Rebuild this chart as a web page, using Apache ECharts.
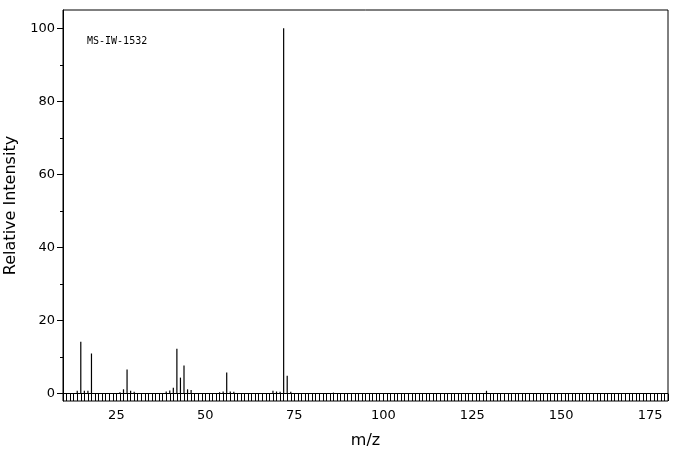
<!DOCTYPE html><html><head><meta charset="utf-8"><script src="https://cdn.jsdelivr.net/npm/echarts@6/dist/echarts.min.js"></script></head><body style="margin:0"><div id="c" style="width:676px;height:455px"></div><script>
const mz =        [14, 15, 16, 17, 18, 26, 27, 28, 29, 30, 39, 40, 41, 42, 43, 44, 45, 46, 54, 55, 56, 57, 58, 69, 70, 71, 72, 73, 74, 86, 129];
const intensity = [0.8,14.2,0.8,0.8,11.0,0.4,1.2,6.6,0.8,0.5,0.6,0.9,1.6,12.3,4.4,7.7,1.2,1.0,0.4,0.6,5.8,0.6,0.5,0.8,0.6,0.5,100,4.9,0.5,0.3,0.8];
const xTicks = [25,50,75,100,125,150,175];
const yTicks = [0,20,40,60,80,100];
const label = 'MS-IW-1532';
const chart = echarts.init(document.getElementById('c'));
const font = {fontFamily:'DejaVu Sans',fontSize:13,color:'#000'};
chart.setOption({
  animation:false,
  grid:{left:63,right:8,top:10,bottom:54,show:true,borderColor:'#000',borderWidth:1,backgroundColor:'#fff',containLabel:false,outerBoundsMode:'none'},
  xAxis:[{type:'value',min:10,max:180,name:'m/z',nameLocation:'middle',nameGap:32,
    nameTextStyle:{fontFamily:'DejaVu Sans',fontSize:16,color:'#000'},
    axisLine:{lineStyle:{color:'#000'}},
    axisTick:{length:4,lineStyle:{color:'#000'},customValues:xTicks},
    axisLabel:Object.assign({customValues:xTicks,margin:8},font),
    splitLine:{show:false}},
   {type:'value',min:10,max:180,interval:1,position:'bottom',
    axisLine:{show:false},axisLabel:{show:false},splitLine:{show:false},
    axisTick:{inside:true,length:7,lineStyle:{color:'#000'}}}],
  yAxis:{type:'value',min:-2,max:105,name:'Relative Intensity',nameLocation:'middle',nameGap:42,
    nameTextStyle:{fontFamily:'DejaVu Sans',fontSize:16,color:'#000'},
    axisLine:{lineStyle:{color:'#000'}},
    axisTick:{length:6,lineStyle:{color:'#000'},customValues:yTicks},
    axisLabel:Object.assign({customValues:yTicks},font),
    minorTick:{show:true,splitNumber:2,length:3,lineStyle:{color:'#000'}},
    splitLine:{show:false}},
  graphic:[{type:'text',left:87,top:36,style:{text:label,font:'10px DejaVu Sans Mono',fill:'#000'}}],
  series:[{type:'bar',barWidth:1.2,itemStyle:{color:'#000'},data:mz.map((m,i)=>[m,intensity[i]]),
    markLine:{symbol:'none',silent:true,label:{show:false},lineStyle:{color:'#000',width:1,type:'solid'},data:[{yAxis:0}]}}]
});
</script></body></html>
